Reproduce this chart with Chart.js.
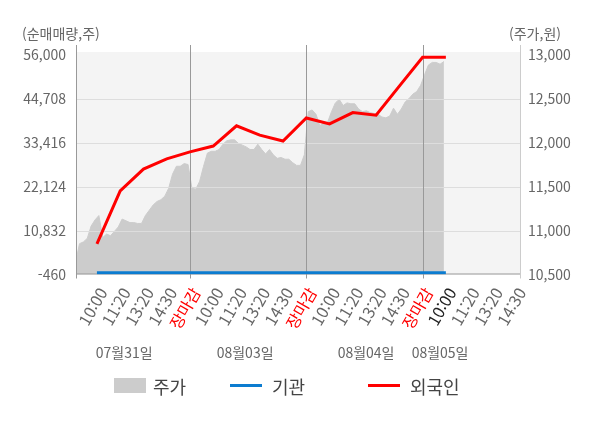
<!DOCTYPE html>
<html lang="ko">
<head>
<meta charset="utf-8">
<script src="https://cdn.jsdelivr.net/npm/chart.js@4.4.0/dist/chart.umd.min.js"></script>
<style>
  body { margin: 0; background: #fff; font-family: "Noto Sans CJK KR", "Noto Sans", sans-serif; }
  #wrap { position: relative; width: 600px; height: 428px; }
  .axis-title { position: absolute; top: 23px; font-size: 14px; line-height: 20px; color: #666; }
  .lg-item { position: absolute; top: 374px; height: 24px; line-height: 24px; font-size: 18px; color: #444; }
  .lg-mark { position: absolute; }
</style>
</head>
<body>
<div id="wrap">
  <canvas id="chart" width="600" height="428"></canvas>
  <div class="axis-title" style="left:22px">(순매매량,주)</div>
  <div class="axis-title" style="left:509px">(주가,원)</div>
  <div class="lg-mark" style="left:114px;top:378px;width:32px;height:15px;background:#cccccc"></div>
  <div class="lg-item" style="left:153px">주가</div>
  <div class="lg-mark" style="left:230px;top:384px;width:32px;height:3px;background:#0c7cd0"></div>
  <div class="lg-item" style="left:272px">기관</div>
  <div class="lg-mark" style="left:368px;top:384px;width:32px;height:3px;background:#ff0000"></div>
  <div class="lg-item" style="left:410px">외국인</div>
</div>
<script>
// dates and the time labels under each trading day
const dates = ['07월31일', '08월03일', '08월04일', '08월05일'];
const slotLabels = [
  '10:00', '11:20', '13:20', '14:30', '장마감',
  '10:00', '11:20', '13:20', '14:30', '장마감',
  '10:00', '11:20', '13:20', '14:30', '장마감',
  '10:00', '11:20', '13:20', '14:30'
];
const currentSlot = 16;

// net buying (shares), one value per slot 1..16
const foreignNet = [7400, 21000, 26600, 29200, 31000, 32500, 37700, 35300,
  33800, 39700, 38200, 41100, 40400, 47900, 55300, 55300];
const institutionNet = [0, 0, 0, 0, 0, 0, 0, 0, 0, 0, 0, 0, 0, 0, 0, 0];

// intraday price (won), evenly sampled through each day
const priceDay1 = [10640, 10850, 10870, 10910, 11050, 11120, 11170, 10920, 10960, 10940,
  10990, 11040, 11130, 11110, 11090, 11090, 11080, 11080, 11170, 11230,
  11290, 11330, 11350, 11390, 11480, 11640, 11730, 11730, 11760, 11750];
const priceDay2 = [11480, 11470, 11560, 11730, 11880, 11900, 11900, 11920, 11980, 12020,
  12030, 12030, 11990, 11970, 11950, 11920, 11920, 11980, 11920, 11870,
  11920, 11860, 11820, 11830, 11810, 11810, 11770, 11740, 11740, 11860];
const priceDay3 = [12350, 12370, 12320, 12190, 12230, 12230, 12350, 12450, 12490, 12420,
  12450, 12440, 12440, 12380, 12350, 12360, 12340, 12330, 12320, 12290,
  12280, 12300, 12390, 12320, 12380, 12460, 12500, 12550, 12580, 12650];
const priceDay4 = [12770, 12880, 12910, 12910, 12890, 12920];
const priceDays = [priceDay1, priceDay2, priceDay3, priceDay4];

const leftTicks = [-460, 10832, 22124, 33416, 44708, 56000];
const rightTicks = [10500, 11000, 11500, 12000, 12500, 13000];

// layout
const slotsPerDay = 5;
const samplesPerSlot = 6;
const dateLabelAt = [2.17, 7.37, 12.57, 15.75];
const font = '"Noto Sans CJK KR", "Noto Sans", sans-serif';

const pricePoints = [];
priceDays.forEach((arr, d) => {
  arr.forEach((p, k) => {
    pricePoints.push({ x: d * slotsPerDay + (k + 0.5) / samplesPerSlot, y: p });
  });
});

const framePlugin = {
  id: 'frame',
  beforeDraw(chart) {
    const { ctx, chartArea: a } = chart;
    ctx.save();
    ctx.fillStyle = '#f4f4f4';
    ctx.fillRect(a.left, a.top - 2.5, a.right - a.left, a.bottom - a.top + 2.5);
    ctx.restore();
  },
  afterDatasetDraw(chart, args) {
    if (args.index !== 0) return;
    const { ctx, chartArea: a } = chart;
    const x = chart.scales.x, y = chart.scales.y;
    ctx.save();
    ctx.lineWidth = 1;
    ctx.strokeStyle = '#dddddd';
    leftTicks.slice(1, -1).forEach(v => {
      const py = Math.round(y.getPixelForValue(v)) + 0.5;
      ctx.beginPath(); ctx.moveTo(a.left, py); ctx.lineTo(a.right, py); ctx.stroke();
    });
    ctx.strokeStyle = '#999999';
    [5, 10, 15].forEach(v => {
      const px = Math.round(x.getPixelForValue(v)) + 0.5;
      ctx.beginPath(); ctx.moveTo(px, a.top - 9.5); ctx.lineTo(px, a.bottom + 4); ctx.stroke();
    });
    ctx.beginPath(); ctx.moveTo(a.left + 0.5, a.top - 9.5); ctx.lineTo(a.left + 0.5, a.bottom + 4); ctx.stroke();
    ctx.beginPath(); ctx.moveTo(a.left, a.bottom - 0.5); ctx.lineTo(a.right, a.bottom - 0.5); ctx.stroke();
    ctx.strokeStyle = '#cccccc';
    ctx.beginPath(); ctx.moveTo(a.right - 0.5, a.top - 9.5); ctx.lineTo(a.right - 0.5, a.bottom + 4); ctx.stroke();
    ctx.restore();
  },
  afterDraw(chart) {
    const { ctx } = chart;
    const x = chart.scales.x;
    ctx.save();
    ctx.font = '14px ' + font;
    ctx.fillStyle = '#666666';
    ctx.textAlign = 'center';
    ctx.textBaseline = 'middle';
    dates.forEach((d, i) => ctx.fillText(d, x.getPixelForValue(dateLabelAt[i]), 353));
    ctx.restore();
  }
};

new Chart(document.getElementById('chart'), {
  type: 'line',
  data: {
    datasets: [
      {
        label: '주가',
        data: pricePoints,
        yAxisID: 'y2',
        borderColor: '#cccccc',
        backgroundColor: '#cccccc',
        borderWidth: 1,
        fill: 'start',
        pointRadius: 0,
        order: 3
      },
      {
        label: '기관',
        data: institutionNet.map((v, i) => ({ x: i + 1, y: v })),
        yAxisID: 'y',
        borderColor: '#0c7cd0',
        borderWidth: 3,
        pointRadius: 0,
        fill: false,
        order: 2
      },
      {
        label: '외국인',
        data: foreignNet.map((v, i) => ({ x: i + 1, y: v })),
        yAxisID: 'y',
        borderColor: '#ff0000',
        borderWidth: 3,
        pointRadius: 0,
        fill: false,
        order: 1
      }
    ]
  },
  options: {
    responsive: false,
    animation: false,
    events: [],
    layout: { padding: { top: 54.5, left: 0, right: 0, bottom: 0 } },
    plugins: { legend: { display: false }, tooltip: { enabled: false } },
    scales: {
      x: {
        type: 'linear',
        min: 0.1,
        max: 19.23,
        grid: { display: false, drawTicks: false },
        border: { display: false },
        afterBuildTicks: (scale) => {
          scale.ticks = slotLabels.map((_, i) => ({ value: i + 1 }));
        },
        afterFit: (scale) => { scale.height = 153.5; },
        ticks: {
          autoSkip: false,
          minRotation: 60,
          maxRotation: 60,
          padding: 10,
          labelOffset: 6,
          font: { family: font, size: 16 },
          color: (c) => {
            const v = Math.round(c.tick.value);
            if (slotLabels[v - 1] === '장마감') return '#ff0000';
            return v === currentSlot ? '#222222' : '#666666';
          },
          callback: (v) => slotLabels[Math.round(v) - 1]
        }
      },
      y: {
        position: 'left',
        min: -460,
        max: 56000,
        grid: { display: false, drawTicks: false },
        border: { display: false },
        afterBuildTicks: (scale) => { scale.ticks = leftTicks.map(v => ({ value: v })); },
        afterFit: (scale) => { scale.width = 76; },
        ticks: {
          padding: 10,
          color: '#666666',
          font: { family: font, size: 14 },
          callback: (v) => v.toLocaleString('en-US')
        }
      },
      y2: {
        position: 'right',
        min: 10500,
        max: 13000,
        grid: { display: false, drawTicks: false },
        border: { display: false },
        afterBuildTicks: (scale) => { scale.ticks = rightTicks.map(v => ({ value: v })); },
        afterFit: (scale) => { scale.width = 79; },
        ticks: {
          padding: 7,
          color: '#666666',
          font: { family: font, size: 14 },
          callback: (v) => v.toLocaleString('en-US')
        }
      }
    }
  },
  plugins: [framePlugin]
});
</script>
</body>
</html>
